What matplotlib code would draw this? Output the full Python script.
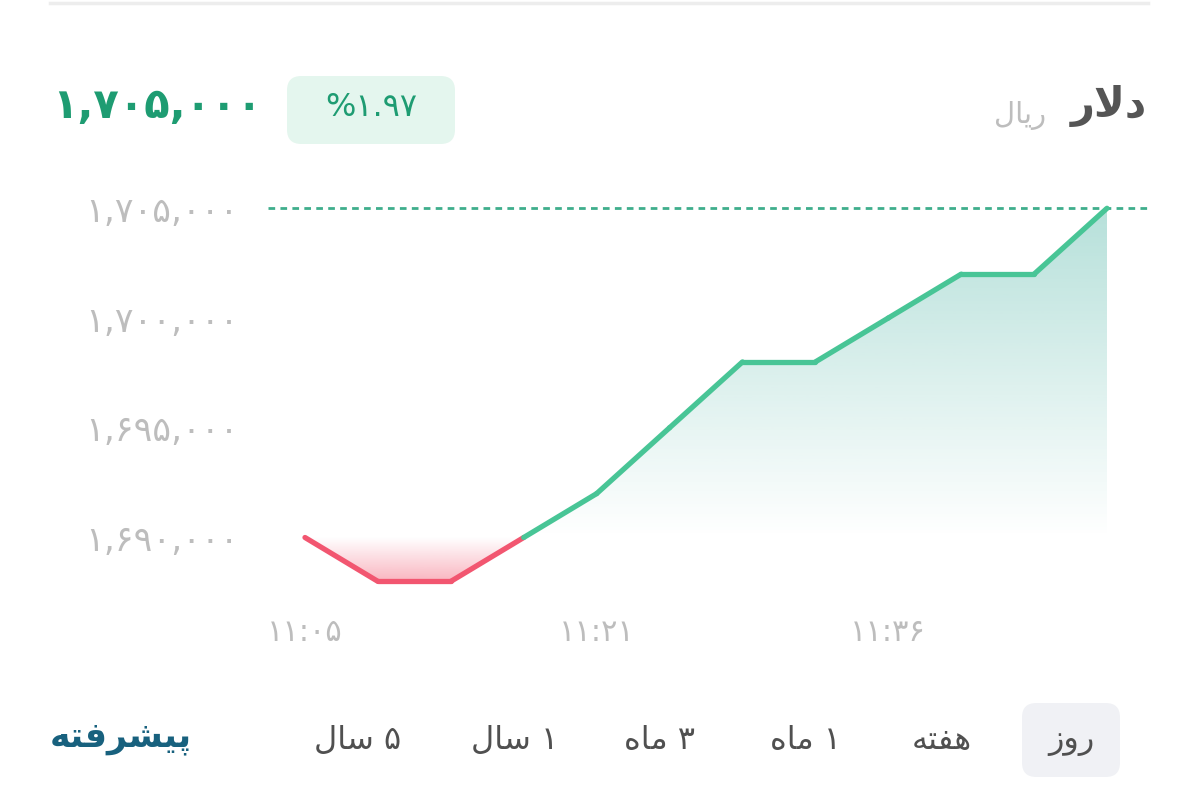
import numpy as np
import matplotlib
matplotlib.use("Agg")
import matplotlib.pyplot as plt
from matplotlib.patches import FancyBboxPatch
from matplotlib.collections import LineCollection

plt.rcParams['font.family'] = ['DejaVu Sans']

# ---------------- data ----------------
prices = [1690000, 1688000, 1688000, 1690000, 1692000, 1695000,
          1698000, 1698000, 1700000, 1702000, 1702000, 1705000]
base_price = 1690000
ytick_values = [1690000, 1695000, 1700000, 1705000]
ytick_labels = ["۱,۶۹۰,۰۰۰", "۱,۶۹۵,۰۰۰", "۱,۷۰۰,۰۰۰", "۱,۷۰۵,۰۰۰"]
xtick_index = [0, 4, 8]
xtick_labels = ["۱۱:۰۵", "۱۱:۲۱", "۱۱:۳۶"]
price_text = "۱,۷۰۵,۰۰۰"
change_text = "%۱.۹۷"
title_text = "دلار"
unit_text = "ریال"
range_labels = ["روز", "هفته", "۱ ماه", "۳ ماه", "۱ سال", "۵ سال"]
advanced_text = "پیشرفته"

# ---------------- simple Persian shaper ----------------
FORMS = {
    '\u0627': ('\uFE8D', '\uFE8E', None, None),
    '\u062A': ('\uFE95', '\uFE96', '\uFE97', '\uFE98'),
    '\u062F': ('\uFEA9', '\uFEAA', None, None),
    '\u0631': ('\uFEAD', '\uFEAE', None, None),
    '\u0632': ('\uFEAF', '\uFEB0', None, None),
    '\u0633': ('\uFEB1', '\uFEB2', '\uFEB3', '\uFEB4'),
    '\u0634': ('\uFEB5', '\uFEB6', '\uFEB7', '\uFEB8'),
    '\u0641': ('\uFED1', '\uFED2', '\uFED3', '\uFED4'),
    '\u0644': ('\uFEDD', '\uFEDE', '\uFEDF', '\uFEE0'),
    '\u0645': ('\uFEE1', '\uFEE2', '\uFEE3', '\uFEE4'),
    '\u0647': ('\uFEE9', '\uFEEA', '\uFEEB', '\uFEEC'),
    '\u0648': ('\uFEED', '\uFEEE', None, None),
    '\u06CC': ('\uFBFC', '\uFBFD', '\uFBFE', '\uFBFF'),
    '\u067E': ('\uFB56', '\uFB57', '\uFB58', '\uFB59'),
}


def shape_word(w):
    out = []
    i = 0
    n = len(w)
    while i < n:
        c = w[i]
        if c not in FORMS:
            out.append(c)
            i += 1
            continue
        prev = w[i - 1] if i > 0 else None
        joins_prev = prev is not None and prev in FORMS and FORMS[prev][2] is not None
        if c == '\u0644' and i + 1 < n and w[i + 1] == '\u0627':
            out.append('\uFEFC' if joins_prev else '\uFEFB')
            i += 2
            continue
        nxt = w[i + 1] if i + 1 < n else None
        joins_next = FORMS[c][2] is not None and nxt is not None and nxt in FORMS
        iso, fin, ini, med = FORMS[c]
        if joins_prev and joins_next:
            out.append(med)
        elif joins_prev:
            out.append(fin)
        elif joins_next:
            out.append(ini)
        else:
            out.append(iso)
        i += 1
    return ''.join(out)


def rtl(text):
    toks = text.split(' ')
    vis = []
    for t in toks:
        if any(ch in FORMS for ch in t):
            vis.append(shape_word(t)[::-1])
        else:
            vis.append(t)
    return ' '.join(vis[::-1])


# ---------------- figure ----------------
W, H = 1198, 807
fig = plt.figure(figsize=(W / 100, H / 100), dpi=100)
fig.patch.set_facecolor('white')


def fx(px):
    return px / W


def fy(py):
    return 1 - py / H


# axes: left 268, right 1148, top 180, bottom 600 (pixels)
ax = fig.add_axes([fx(268), fy(600), fx(1148) - fx(268), (600 - 180) / H])
x = np.arange(len(prices))
y = np.array(prices, dtype=float)
px_per_idx = (1107 - 305) / (len(prices) - 1)
ax.set_xlim(0 - (305 - 268) / px_per_idx, (len(prices) - 1) + (1148 - 1107) / px_per_idx)
px_per_unit = (537.5 - 208.3) / (1705000 - 1690000)
ax.set_ylim(1690000 - (600 - 537.5) / px_per_unit, 1705000 + (208.3 - 180) / px_per_unit)
xl = ax.get_xlim()
yl = ax.get_ylim()

green_line = '#48C596'
red_line = '#F25670'
ng = 256

# green gradient fill (area above the base price)
ymax = y.max()
poly_g = ax.fill_between(x, np.maximum(y, base_price), base_price,
                         facecolor='none', edgecolor='none')
grad_g = np.zeros((ng, 1, 4))
grad_g[:, 0, 0] = 72 / 255
grad_g[:, 0, 1] = 178 / 255
grad_g[:, 0, 2] = 162 / 255
grad_g[:, 0, 3] = np.linspace(0.40, 0.0, ng)  # top -> bottom
im_g = ax.imshow(grad_g, extent=[x.min(), x.max(), base_price, ymax], aspect='auto',
                 origin='upper', zorder=1)
im_g.set_clip_path(poly_g.get_paths()[0], transform=ax.transData)

# red gradient fill (area below the base price)
ymin = y.min()
poly_r = ax.fill_between(x, np.minimum(y, base_price), base_price,
                         facecolor='none', edgecolor='none')
grad_r = np.zeros((ng, 1, 4))
grad_r[:, 0, 0] = 242 / 255
grad_r[:, 0, 1] = 80 / 255
grad_r[:, 0, 2] = 105 / 255
grad_r[:, 0, 3] = np.linspace(0.0, 0.42, ng)  # top -> bottom
im_r = ax.imshow(grad_r, extent=[x.min(), x.max(), ymin, base_price], aspect='auto',
                 origin='upper', zorder=1)
im_r.set_clip_path(poly_r.get_paths()[0], transform=ax.transData)

ax.set_xlim(xl)
ax.set_ylim(yl)

# price line coloured by side of the base price
segs = []
cols = []
for i in range(len(x) - 1):
    segs.append([(x[i], y[i]), (x[i + 1], y[i + 1])])
    below = y[i] < base_price or y[i + 1] < base_price
    cols.append(red_line if below else green_line)
lc = LineCollection(segs, colors=cols, linewidths=3.8, capstyle='round', joinstyle='round', zorder=3)
ax.add_collection(lc)

# dotted last-price line
ax.axhline(y[-1], color='#3FAE8C', lw=2.0, ls=(0, (2.4, 1.9)), zorder=2)

for s in ax.spines.values():
    s.set_visible(False)
ax.set_yticks(ytick_values)
ax.set_yticklabels(ytick_labels, fontsize=25, color='#BDBDBD')
ax.set_xticks(xtick_index)
ax.set_xticklabels(xtick_labels, fontsize=22, color='#BDBDBD')
ax.tick_params(axis='y', length=0, pad=21)
ax.tick_params(axis='x', length=0, pad=13)
ax.set_facecolor('none')

# ---------------- header ----------------
fig.add_artist(plt.Line2D([fx(50), fx(1148)], [fy(3), fy(3)], color='#EDEDED', lw=2.5))
fig.text(fx(52), fy(106), price_text, fontsize=30, fontweight='bold', color='#1E9C72',
         ha='left', va='center')
badge = FancyBboxPatch((fx(287), fy(144)), fx(455) - fx(287), (144 - 76) / H,
                       boxstyle='round,pad=0,rounding_size=0.012',
                       transform=fig.transFigure, facecolor='#E4F6EE', edgecolor='none',
                       mutation_aspect=W / H)
fig.add_artist(badge)
fig.text(fx(371), fy(108), change_text, fontsize=23, color='#1E9C72', ha='center', va='center')
fig.text(fx(1147), fy(106), rtl(title_text), fontsize=30, fontweight='bold', color='#555555',
         ha='right', va='center')
fig.text(fx(1046), fy(116), rtl(unit_text), fontsize=21, color='#BDBDBD', ha='right', va='center')

# ---------------- footer ----------------
sel = FancyBboxPatch((fx(1022), fy(777)), fx(1120) - fx(1022), (777 - 703) / H,
                     boxstyle='round,pad=0,rounding_size=0.012',
                     transform=fig.transFigure, facecolor='#F0F1F5', edgecolor='none',
                     mutation_aspect=W / H)
fig.add_artist(sel)
centers = [1071, 942, 805, 660, 515, 358]
for lab, cx in zip(range_labels, centers):
    fig.text(fx(cx), fy(741), rtl(lab), fontsize=23, color='#505050', ha='center', va='center')
fig.text(fx(121), fy(738), rtl(advanced_text), fontsize=25, fontweight='bold', color='#18617E',
         ha='center', va='center')

fig.savefig('out.png', dpi=100, facecolor='white')
